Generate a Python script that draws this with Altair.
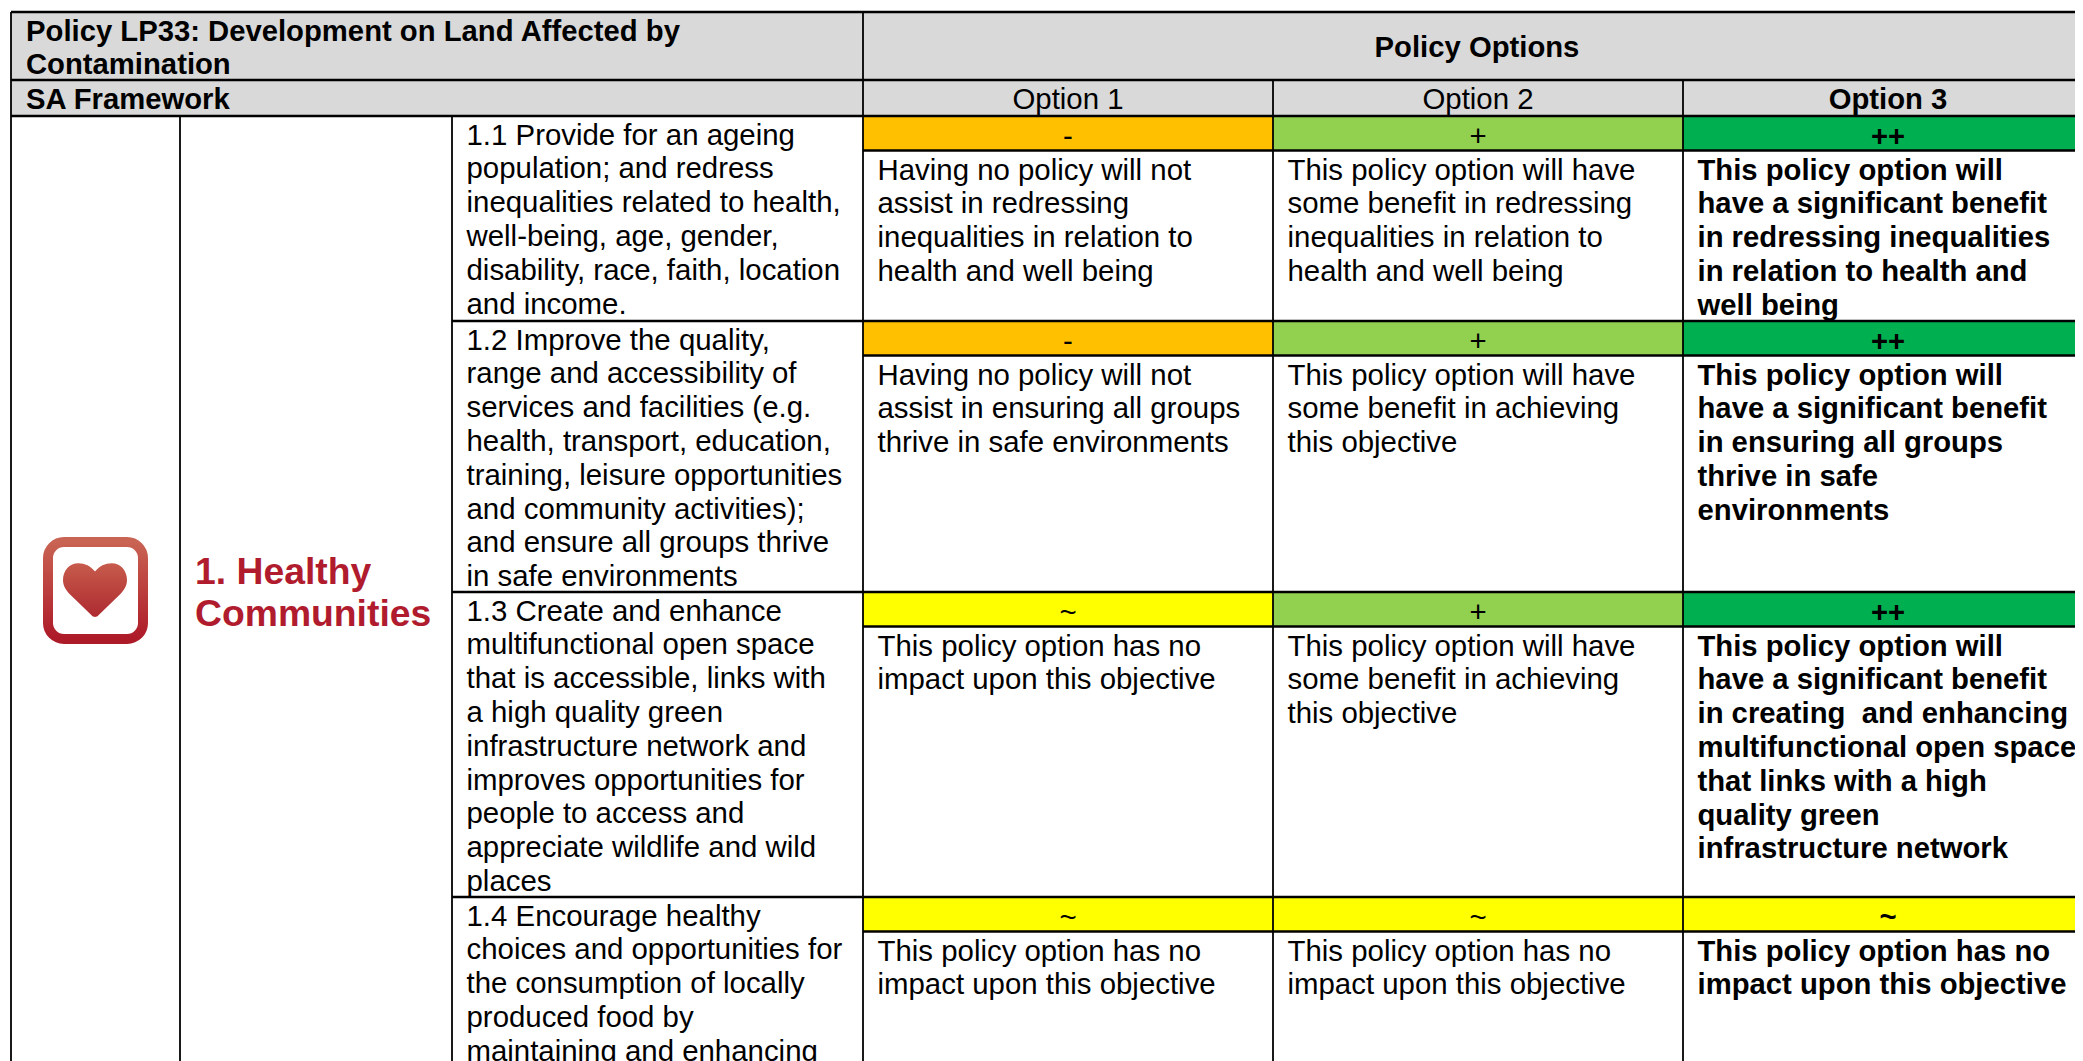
import altair as alt
import pandas as pd

# ---- table content ----
TITLE = "Policy LP33: Development on Land Affected by\nContamination"
FRAMEWORK = "SA Framework"
POLICY_OPTIONS = "Policy Options"
OPTIONS = ["Option 1", "Option 2", "Option 3"]
THEME = "1. Healthy\nCommunities"

OBJECTIVES = [
    "1.1 Provide for an ageing\npopulation; and redress\ninequalities related to health,\nwell-being, age, gender,\ndisability, race, faith, location\nand income.",
    "1.2 Improve the quality,\nrange and accessibility of\nservices and facilities (e.g.\nhealth, transport, education,\ntraining, leisure opportunities\nand community activities);\nand ensure all groups thrive\nin safe environments",
    "1.3 Create and enhance\nmultifunctional open space\nthat is accessible, links with\na high quality green\ninfrastructure network and\nimproves opportunities for\npeople to access and\nappreciate wildlife and wild\nplaces",
    "1.4 Encourage healthy\nchoices and opportunities for\nthe consumption of locally\nproduced food by\nmaintaining and enhancing",
]
RATINGS = [
    ["-", "+", "++"],
    ["-", "+", "++"],
    ["~", "+", "++"],
    ["~", "~", "~"],
]
NO_IMPACT = "This policy option has no\nimpact upon this objective"
SOME_BENEFIT = "This policy option will have\nsome benefit in achieving\nthis objective"
COMMENTS = [
    ["Having no policy will not\nassist in redressing\ninequalities in relation to\nhealth and well being",
     "This policy option will have\nsome benefit in redressing\ninequalities in relation to\nhealth and well being",
     "This policy option will\nhave a significant benefit\nin redressing inequalities\nin relation to health and\nwell being"],
    ["Having no policy will not\nassist in ensuring all groups\nthrive in safe environments",
     SOME_BENEFIT,
     "This policy option will\nhave a significant benefit\nin ensuring all groups\nthrive in safe\nenvironments"],
    [NO_IMPACT,
     SOME_BENEFIT,
     "This policy option will\nhave a significant benefit\nin creating\u00a0 and enhancing\nmultifunctional open space\nthat links with a high\nquality green\ninfrastructure network"],
    [NO_IMPACT, NO_IMPACT, NO_IMPACT],
]

RATING_COLOURS = {"-": "#ffc000", "+": "#92d050", "++": "#00b050", "~": "#ffff00"}
HEADER_GREY = "#d9d9d9"
THEME_RED = "#b01c2e"

# ---- table grid (page pixels) ----
PAGE_W, PAGE_H = 2075, 1061
X_LEFT, X_ICON, X_THEME, X_OBJ, X_RIGHT = 11, 180, 452, 863, 2095
X_OPT = [863, 1273, 1683, 2095]
Y_TOP, Y_HEAD, Y_SUB = 12, 80, 116
ROW_TOPS = [116, 321, 592, 897]
RATING_BOTTOMS = [150.5, 355.5, 626.5, 931.5]
FONT = "Liberation Sans"
FS = 29.4
FS_BOLD = 29.25
LH = 33.8

x_scale = alt.Scale(domain=[8, PAGE_W], range=[0, PAGE_W - 8])
y_scale = alt.Scale(domain=[8, PAGE_H], range=[0, PAGE_H - 8])
X = lambda f: alt.X(f, type="quantitative", scale=x_scale, axis=None)
Y = lambda f: alt.Y(f, type="quantitative", scale=y_scale, axis=None)

# ---- fills ----
fills = [
    dict(x=X_LEFT, x2=X_OBJ, y=Y_TOP, y2=Y_HEAD, c=HEADER_GREY),
    dict(x=X_OBJ, x2=X_RIGHT, y=Y_TOP, y2=Y_HEAD, c=HEADER_GREY),
    dict(x=X_LEFT, x2=X_RIGHT, y=Y_HEAD, y2=Y_SUB, c=HEADER_GREY),
]
for r, row in enumerate(RATINGS):
    for o, rating in enumerate(row):
        fills.append(dict(x=X_OPT[o], x2=X_OPT[o + 1], y=ROW_TOPS[r],
                          y2=RATING_BOTTOMS[r], c=RATING_COLOURS[rating]))
fill_layer = alt.Chart(pd.DataFrame(fills)).mark_rect(clip=True).encode(
    x=X("x"), x2="x2", y=Y("y"), y2="y2",
    color=alt.Color("c:N", scale=None))

# ---- grid lines ----
h_lines = [(X_LEFT, X_RIGHT, y) for y in (Y_TOP, Y_HEAD, Y_SUB)]
h_lines += [(X_OBJ, X_RIGHT, y) for y in RATING_BOTTOMS]
h_lines += [(X_THEME, X_RIGHT, y) for y in ROW_TOPS[1:]]
v_lines = [(x, Y_TOP, PAGE_H) for x in (X_LEFT, X_OBJ)]
v_lines += [(x, Y_SUB, PAGE_H) for x in (X_ICON, X_THEME)]
v_lines += [(x, Y_HEAD, PAGE_H) for x in X_OPT[1:3]]
rules = (
    [dict(x=a, x2=b, y=y, y2=y, w=2.6) for a, b, y in h_lines]
    + [dict(x=x, x2=x, y=a, y2=b, w=1.8) for x, a, b in v_lines]
)
rule_layer = alt.Chart(pd.DataFrame(rules)).mark_rule(color="#000000", clip=True).encode(
    x=X("x"), x2="x2", y=Y("y"), y2="y2",
    strokeWidth=alt.StrokeWidth("w:Q", scale=None))


def text_layer(rows, align="left", weight="normal", size=FS, lh=LH, color="#000000"):
    return alt.Chart(pd.DataFrame(rows)).mark_text(
        align=align, baseline="alphabetic", font=FONT, fontSize=size,
        fontWeight=weight, color=color, lineBreak="\n", lineHeight=lh,
    ).encode(x=X("x"), y=Y("y"), text="t:N")


OFFSET_OBJ = 28.6
OFFSET_RATING = 30
OFFSET_COMMENT = 29
INSET = 14.5

plain, bold = [], []
bold.append(dict(x=26, y=40.5, t=TITLE))
bold.append(dict(x=26, y=108.5, t=FRAMEWORK))
centre_bold = [dict(x=(X_OBJ + X_RIGHT) / 2 - 2, y=57, t=POLICY_OPTIONS),
               dict(x=(X_OPT[2] + X_OPT[3]) / 2 - 1, y=108.5, t=OPTIONS[2])]
centre_plain = [dict(x=(X_OPT[i] + X_OPT[i + 1]) / 2, y=108.5, t=OPTIONS[i]) for i in range(2)]

for r in range(4):
    plain.append(dict(x=X_THEME + INSET, y=ROW_TOPS[r] + OFFSET_OBJ, t=OBJECTIVES[r]))
    for o in range(3):
        cx = (X_OPT[o] + X_OPT[o + 1]) / 2 - (1 if o == 2 else 0)
        cell = dict(x=cx, y=ROW_TOPS[r] + OFFSET_RATING, t=RATINGS[r][o])
        (centre_bold if o == 2 else centre_plain).append(cell)
        note = dict(x=X_OPT[o] + INSET, y=RATING_BOTTOMS[r] + OFFSET_COMMENT, t=COMMENTS[r][o])
        (bold if o == 2 else plain).append(note)

# ---- icon ----
ICON_BOX = dict(x=48, x2=143, y=542, y2=639)
HEART = [dict(x=95, y=590.5)]
HEART_PATH = ("M0,-0.59 C-0.13,-0.76 -0.32,-0.85 -0.52,-0.85 C-0.8,-0.85 -1,-0.62 -1,-0.33 "
              "C-1,-0.14 -0.9,0 -0.77,0.13 L-0.1,0.78 C-0.05,0.84 0.05,0.84 0.1,0.78 L0.77,0.13 "
              "C0.9,0 1,-0.14 1,-0.33 C1,-0.62 0.8,-0.85 0.52,-0.85 C0.32,-0.85 0.13,-0.76 0,-0.59 Z")
ring_grad = {"gradient": "linear", "x1": 0, "x2": 0, "y1": 0, "y2": 1,
             "stops": [{"offset": 0, "color": "#c96353"}, {"offset": 1, "color": "#ad1a28"}]}
heart_grad = {"gradient": "linear", "x1": 0, "x2": 0, "y1": 0, "y2": 1,
              "stops": [{"offset": 0, "color": "#c75b4c"}, {"offset": 1, "color": "#ae2a30"}]}
ring = alt.Chart(pd.DataFrame([ICON_BOX])).mark_rect(
    fill="#ffffff", stroke=ring_grad, strokeWidth=10, cornerRadius=16
).encode(x=X("x"), x2="x2", y=Y("y"), y2="y2")
heart = alt.Chart(pd.DataFrame(HEART)).mark_point(
    shape=HEART_PATH, size=4096, filled=True, fill=heart_grad, opacity=1, strokeWidth=0
).encode(x=X("x"), y=Y("y"))

chart = alt.layer(
    fill_layer,
    rule_layer,
    ring,
    heart,
    text_layer(plain),
    text_layer(bold, weight="bold", size=FS_BOLD),
    text_layer(centre_plain, align="center"),
    text_layer(centre_bold, align="center", weight="bold", size=FS_BOLD),
    text_layer([dict(x=195, y=583.5, t=THEME)], weight="bold", size=37.3, lh=42.5, color=THEME_RED),
).properties(
    width=PAGE_W - 8, height=PAGE_H - 8, padding=0,
    autosize=alt.AutoSizeParams(type="none"),
).configure_view(stroke=None)

chart.save("out.html", embed_options={"renderer": "svg", "actions": False})
